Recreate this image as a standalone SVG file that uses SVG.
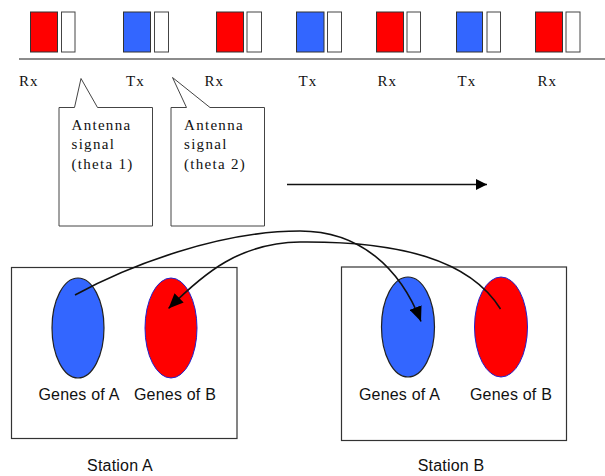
<svg xmlns="http://www.w3.org/2000/svg" width="605" height="476" viewBox="0 0 605 476">
  <defs>
    <style>
      .slot-r { fill: #FF0000; stroke: #333; stroke-width: 1; }
      .slot-b { fill: #3366FF; stroke: #333; stroke-width: 1; }
      .slot-w { fill: #FFFFFF; stroke: #444; stroke-width: 1; }
      .lbl { font-family: "Liberation Serif", "DejaVu Serif", serif; font-size: 15px; fill: #111; letter-spacing: 1px; }
      .note { font-family: "Liberation Serif", "DejaVu Serif", serif; font-size: 15px; fill: #111; letter-spacing: 1.3px; }
      .gene { font-family: "Liberation Sans", Arial, sans-serif; font-size: 16px; fill: #111; letter-spacing: 0.2px; text-anchor: middle; }
      .callout { fill: #FFFFFF; stroke: #444; stroke-width: 1; }
      .box { fill: #FFFFFF; stroke: #333; stroke-width: 1.2; }
      .eb { fill: #3366FF; stroke: #222; stroke-width: 1.2; }
      .er { fill: #FF0000; stroke: #2222CC; stroke-width: 1; }
      .wire { fill: none; stroke: #111; stroke-width: 1.6; }
    </style>
    <marker id="head" viewBox="0 0 12 12" refX="12" refY="6" markerWidth="12" markerHeight="11" markerUnits="userSpaceOnUse" orient="auto">
      <path d="M0,0 L12,6 L0,12 Z" fill="#000"/>
    </marker>
    <marker id="head-lg" viewBox="0 0 14 12" refX="14" refY="6" markerWidth="15" markerHeight="13" markerUnits="userSpaceOnUse" orient="auto">
      <path d="M0,0 L14,6 L0,12 Z" fill="#000"/>
    </marker>
  </defs>
  <rect width="605" height="476" fill="#FFFFFF"/>

  <!-- timeline slots -->
  <g id="slots">
    <rect class="slot-r" x="30.5" y="12" width="27" height="40"/><rect class="slot-w" x="61.5" y="12" width="13.5" height="40"/>
    <rect class="slot-b" x="123.5" y="12" width="27" height="40"/><rect class="slot-w" x="154.5" y="12" width="14" height="40"/>
    <rect class="slot-r" x="216.5" y="12" width="27" height="40"/><rect class="slot-w" x="247" y="12" width="14.5" height="40"/>
    <rect class="slot-b" x="296.5" y="12" width="27.5" height="40"/><rect class="slot-w" x="327.5" y="12" width="14" height="40"/>
    <rect class="slot-r" x="376.5" y="12" width="27" height="40"/><rect class="slot-w" x="407" y="12" width="13.5" height="40"/>
    <rect class="slot-b" x="456.5" y="12" width="26" height="40"/><rect class="slot-w" x="487" y="12" width="13.5" height="40"/>
    <rect class="slot-r" x="535.5" y="12" width="27" height="40"/><rect class="slot-w" x="566" y="12" width="14" height="40"/>
    <line x1="19" y1="59" x2="605" y2="59" stroke="#666" stroke-width="1.5"/>
  </g>

  <g id="slot-labels">
    <text class="lbl" x="19" y="85.5">Rx</text>
    <text class="lbl" x="126" y="85.5">Tx</text>
    <text class="lbl" x="204.5" y="85.5">Rx</text>
    <text class="lbl" x="298.5" y="85.5">Tx</text>
    <text class="lbl" x="377.5" y="85.5">Rx</text>
    <text class="lbl" x="457.5" y="85.5">Tx</text>
    <text class="lbl" x="537.5" y="85.5">Rx</text>
  </g>

  <!-- antenna callouts -->
  <g id="callout-theta1">
    <path class="callout" d="M59,107.5 L74.5,107.5 L81,78.5 L97.5,107.5 L152.5,107.5 L152.5,226 L59,226 Z"/>
    <text class="note" x="71.5" y="130">Antenna</text>
    <text class="note" x="71.5" y="149">signal</text>
    <text class="note" x="71.5" y="168.5">(theta 1)</text>
  </g>
  <g id="callout-theta2">
    <path class="callout" d="M171,107.5 L186.5,107.5 L172.5,77.5 L210,107.5 L264.5,107.5 L264.5,226 L171,226 Z"/>
    <text class="note" x="184" y="130">Antenna</text>
    <text class="note" x="184" y="149">signal</text>
    <text class="note" x="184" y="168.5">(theta 2)</text>
  </g>

  <!-- stations -->
  <g id="station-a">
    <rect class="box" x="11.5" y="267.5" width="225.5" height="171"/>
    <ellipse class="eb" cx="78" cy="328" rx="26" ry="50"/>
    <ellipse class="er" cx="171" cy="328" rx="26" ry="50"/>
    <text class="gene" x="79" y="400">Genes of A</text>
    <text class="gene" x="175" y="400">Genes of B</text>
    <text class="gene" x="120" y="471">Station A</text>
  </g>
  <g id="station-b">
    <rect class="box" x="341.5" y="267" width="225" height="173.5"/>
    <ellipse class="eb" cx="408" cy="327" rx="26.5" ry="50"/>
    <ellipse class="er" cx="501" cy="327" rx="26.5" ry="50"/>
    <text class="gene" x="399.5" y="400">Genes of A</text>
    <text class="gene" x="511" y="400">Genes of B</text>
    <text class="gene" x="451" y="471">Station B</text>
  </g>

  <!-- connectors -->
  <g id="connectors">
    <line class="wire" x1="287" y1="184.5" x2="487" y2="184.5" marker-end="url(#head)"/>
    <path class="wire" d="M75,295 C130,265 220,231 300,231 C360,231 400,268 421,321.5" marker-end="url(#head-lg)"/>
    <path class="wire" d="M500.5,309 C470,260 400,241 300,242 C240,243 205,272 168.5,308.5" marker-end="url(#head-lg)"/>
  </g>
</svg>
